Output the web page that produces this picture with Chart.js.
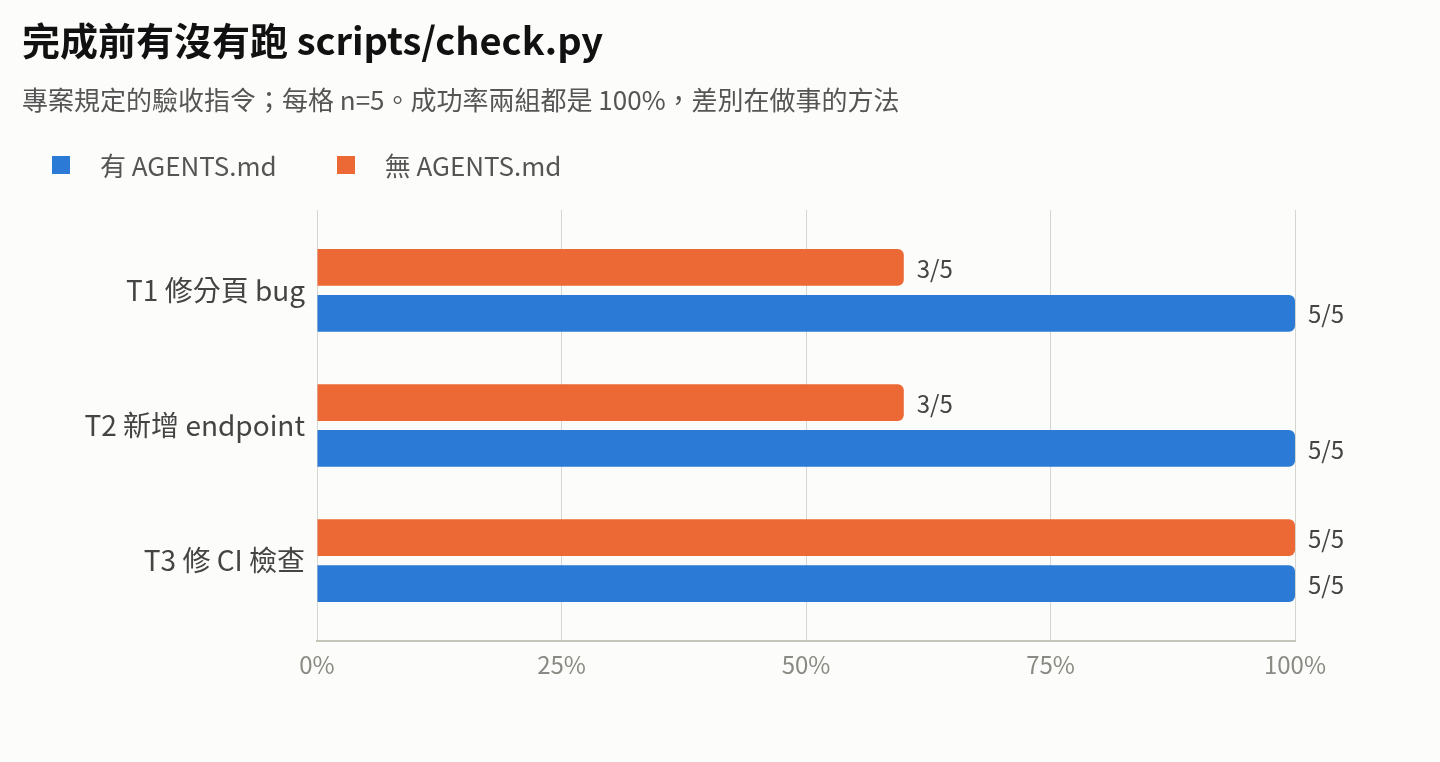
<!DOCTYPE html>
<html lang="zh-Hant">
<head>
  <meta charset="UTF-8"/>
  <title>完成前有沒有跑 scripts/check.py</title>
  <script src="https://cdn.jsdelivr.net/npm/chart.js"></script>
  <style>
    html, body {
      margin: 0;
      padding: 0;
      background: #fcfcfa;
      font-family: "Noto Sans CJK TC", "Noto Sans", sans-serif;
      overflow: hidden;
    }
    .page {
      position: relative;
      width: 1440px;
      height: 762px;
    }
    .chart-box {
      position: absolute;
      left: 0;
      top: 0;
      width: 1440px;
      height: 762px;
    }
    h1 {
      position: absolute;
      left: 22px;
      top: 12px;
      margin: 0;
      font-size: 38px;
      font-weight: 700;
      color: #111;
      line-height: 54px;
    }
    .subtitle {
      position: absolute;
      left: 22px;
      top: 82px;
      margin: 0;
      font-size: 26px;
      color: #555;
      line-height: 34px;
    }
    .legend {
      position: absolute;
      left: 52px;
      top: 146px;
      display: flex;
      font-size: 26px;
      color: #555;
      line-height: 38px;
    }
    .legend-item {
      display: flex;
      align-items: center;
      margin-right: 60px;
    }
    .legend-box {
      width: 18px;
      height: 18px;
      margin-right: 30px;
    }
  </style>
</head>
<body>

<div class="page">
  <div class="chart-box"><canvas id="agentsChart"></canvas></div>
  <h1>完成前有沒有跑 scripts/check.py</h1>
  <p class="subtitle">專案規定的驗收指令；每格 n=5。成功率兩組都是 100%，差別在做事的方法</p>
  <div class="legend" id="legend"></div>
</div>

<script>
  // tasks and results (percent of 5 runs that ran check.py)
  const tasks = ["T1 修分頁 bug", "T2 新增 endpoint", "T3 修 CI 檢查"];
  const withAgents = [100, 100, 100];
  const withoutAgents = [60, 60, 100];
  const withLabels = ["5/5", "5/5", "5/5"];
  const withoutLabels = ["3/5", "3/5", "5/5"];
  const xTicks = [0, 25, 50, 75, 100];

  const BLUE = "#2a7ad6";
  const ORANGE = "#ec6936";
  const FONT = '"Noto Sans CJK TC", "Noto Sans", sans-serif';

  // orange first so it sits above blue inside each group
  const datasets = [
    { label: "無 AGENTS.md", data: withoutAgents, valueLabels: withoutLabels, backgroundColor: ORANGE },
    { label: "有 AGENTS.md", data: withAgents, valueLabels: withLabels, backgroundColor: BLUE }
  ];

  // legend shows blue first
  const legendEl = document.getElementById("legend");
  datasets.slice().reverse().forEach(ds => {
    const item = document.createElement("div");
    item.className = "legend-item";
    item.innerHTML = `<span class="legend-box" style="background:${ds.backgroundColor}"></span>${ds.label}`;
    legendEl.appendChild(item);
  });

  const valueLabelPlugin = {
    id: "valueLabels",
    afterDatasetsDraw(chart) {
      const ctx = chart.ctx;
      ctx.save();
      ctx.font = `24px ${FONT}`;
      ctx.fillStyle = "#444";
      ctx.textAlign = "left";
      ctx.textBaseline = "middle";
      chart.data.datasets.forEach((ds, i) => {
        chart.getDatasetMeta(i).data.forEach((bar, j) => {
          ctx.fillText(ds.valueLabels[j], bar.x + 13, bar.y + 1);
        });
      });
      ctx.restore();
    }
  };

  // y is a numeric task index so the groups get some room above and below
  new Chart(document.getElementById("agentsChart"), {
    type: "bar",
    data: {
      datasets: datasets.map(ds => ({
        label: ds.label,
        data: ds.data.map((v, i) => ({ x: v, y: i })),
        valueLabels: ds.valueLabels,
        backgroundColor: ds.backgroundColor,
        borderRadius: 6,
        borderSkipped: "start",
        categoryPercentage: 0.68,
        barPercentage: 0.8
      }))
    },
    options: {
      indexAxis: "y",
      responsive: true,
      maintainAspectRatio: false,
      animation: false,
      layout: { padding: { top: 210, right: 145, left: 0, bottom: 0 } },
      plugins: {
        legend: { display: false },
        tooltip: { enabled: false }
      },
      scales: {
        x: {
          type: "linear",
          min: 0,
          max: 100,
          afterFit: scale => { scale.height = 121; },
          afterBuildTicks: scale => { scale.ticks = xTicks.map(v => ({ value: v })); },
          ticks: {
            padding: 9,
            color: "#8a8a84",
            font: { family: FONT, size: 24 },
            callback: v => v + "%"
          },
          grid: { color: "#d6d6d0", lineWidth: 1, drawTicks: false },
          border: { color: "#c4c4b8", width: 2 }
        },
        y: {
          type: "linear",
          offset: false,
          reverse: true,
          min: -0.595,
          max: 2.595,
          afterFit: scale => { scale.width = 317; },
          afterBuildTicks: scale => { scale.ticks = tasks.map((t, i) => ({ value: i })); },
          ticks: {
            padding: 12,
            color: "#444",
            font: { family: FONT, size: 28 },
            callback: v => tasks[v]
          },
          grid: { display: false, drawTicks: false, offset: false },
          border: { display: false }
        }
      }
    },
    plugins: [valueLabelPlugin]
  });
</script>

</body>
</html>
